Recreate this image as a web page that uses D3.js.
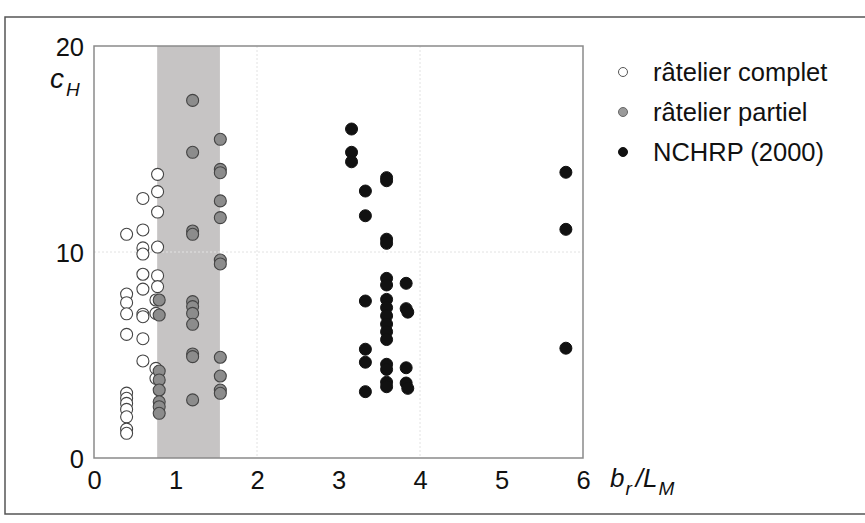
<!DOCTYPE html>
<html>
<head>
<meta charset="utf-8">
<script src="https://cdn.jsdelivr.net/npm/d3@7"></script>
<style>
  html, body { margin: 0; padding: 0; background: #fff; }
  svg { display: block; }
  text { font-family: "Liberation Sans", Arial, sans-serif; fill: #111; }
</style>
</head>
<body>
<svg id="chart" width="865" height="523"></svg>
<script>
// Racks: full rack (open), partial rack (grey), NCHRP (2000) data (black)
const completPoints = [
  [0.40, 10.86], [0.40, 7.96], [0.40, 7.54], [0.40, 7.0], [0.40, 6.0],
  [0.40, 3.15], [0.40, 2.9], [0.40, 2.65], [0.40, 2.36], [0.40, 2.0],
  [0.40, 1.4], [0.40, 1.2],
  [0.60, 12.6], [0.60, 11.07], [0.60, 10.2], [0.60, 9.9], [0.60, 8.92],
  [0.60, 8.2], [0.60, 6.98], [0.60, 6.86], [0.60, 5.79], [0.60, 4.71],
  [0.78, 13.77], [0.78, 12.93], [0.78, 11.94], [0.78, 10.24], [0.78, 8.85],
  [0.78, 8.32], [0.76, 7.67], [0.76, 7.02], [0.76, 4.35], [0.76, 3.87]
];
const partielPoints = [
  [0.80, 7.67], [0.80, 6.94], [0.80, 4.22], [0.80, 3.79], [0.80, 3.3],
  [0.80, 2.73], [0.80, 2.49], [0.80, 2.17],
  [1.21, 17.36], [1.21, 14.84], [1.21, 11.02], [1.21, 10.86], [1.21, 7.59],
  [1.21, 7.35], [1.21, 7.02], [1.21, 6.49], [1.21, 5.05], [1.21, 4.92], [1.21, 2.82],
  [1.55, 15.47], [1.55, 14.01], [1.55, 13.85], [1.55, 12.48], [1.55, 11.67],
  [1.55, 9.61], [1.55, 9.42], [1.55, 4.89], [1.55, 3.98], [1.55, 3.3], [1.55, 3.14]
];
const nchrpPoints = [
  [3.16, 15.97], [3.16, 14.84], [3.16, 14.38],
  [3.33, 12.96], [3.33, 11.76], [3.33, 7.62], [3.33, 5.28], [3.33, 4.65], [3.33, 3.22],
  [3.59, 13.61], [3.59, 13.46], [3.59, 10.62], [3.59, 10.42], [3.59, 8.72], [3.59, 8.4],
  [3.59, 7.7], [3.59, 7.3], [3.59, 6.9], [3.59, 6.5], [3.59, 6.13], [3.59, 5.75],
  [3.59, 4.55], [3.59, 4.3], [3.59, 3.68], [3.59, 3.46],
  [3.83, 8.48], [3.83, 7.25], [3.85, 7.08], [3.83, 4.38], [3.83, 3.64], [3.85, 3.38],
  [5.79, 13.87], [5.79, 11.1], [5.79, 5.33]
];
const shadedRange = [0.775, 1.545];
const xTicks = [0, 1, 2, 3, 4, 5, 6];
const yTicks = [0, 10, 20];
const xGrid = [2, 4];
const yGrid = [10];
const legendLabels = ["râtelier complet", "râtelier partiel", "NCHRP (2000)"];

const svg = d3.select("#chart");

// outer frame
svg.append("rect")
  .attr("x", 5).attr("y", 17).attr("width", 880).attr("height", 497)
  .attr("fill", "none").attr("stroke", "#555").attr("stroke-width", 1.5);

const plot = { left: 94, right: 583, top: 46, bottom: 458 };
const x = d3.scaleLinear().domain([0, 6]).range([plot.left, plot.right]);
const y = d3.scaleLinear().domain([0, 20]).range([plot.bottom, plot.top]);

// shaded band
svg.append("rect")
  .attr("x", x(shadedRange[0])).attr("y", plot.top)
  .attr("width", x(shadedRange[1]) - x(shadedRange[0]))
  .attr("height", plot.bottom - plot.top)
  .attr("fill", "#c6c4c4");

// faint grid
const grid = svg.append("g").attr("stroke", "#e2e2e2").attr("stroke-width", 1)
  .attr("stroke-dasharray", "2,2");
grid.selectAll("line.gx").data(xGrid).join("line")
  .attr("x1", d => x(d)).attr("x2", d => x(d))
  .attr("y1", plot.top).attr("y2", plot.bottom);
grid.selectAll("line.gy").data(yGrid).join("line")
  .attr("x1", plot.left).attr("x2", plot.right)
  .attr("y1", d => y(d)).attr("y2", d => y(d));

// plot box
svg.append("rect")
  .attr("x", plot.left).attr("y", plot.top)
  .attr("width", plot.right - plot.left).attr("height", plot.bottom - plot.top)
  .attr("fill", "none").attr("stroke", "#8a8a8a").attr("stroke-width", 1.5);

// axes (labels only)
const xAxis = d3.axisBottom(x).tickValues(xTicks).tickSize(0).tickPadding(0).tickFormat(d3.format("d"));
const gx = svg.append("g").attr("transform", `translate(0,${plot.bottom})`).call(xAxis);
gx.select(".domain").remove();
gx.selectAll("text").attr("font-size", 25.5).attr("dy", 0).attr("y", 31)
  .attr("font-family", "Liberation Sans, Arial, sans-serif").attr("fill", "#111");

const yAxis = d3.axisLeft(y).tickValues(yTicks).tickSize(0).tickPadding(0).tickFormat(d3.format("d"));
const gy = svg.append("g").attr("transform", `translate(${plot.left - 10},0)`).call(yAxis);
gy.select(".domain").remove();
gy.selectAll("text").attr("font-size", 25.5).attr("dy", "0.36em").attr("x", 0)
  .attr("font-family", "Liberation Sans, Arial, sans-serif").attr("fill", "#111");

// axis titles
const yt = svg.append("text").attr("x", 50).attr("y", 88).attr("font-size", 28).attr("font-style", "italic");
yt.append("tspan").text("c");
yt.append("tspan").attr("font-size", 19).attr("dy", 8).attr("dx", 2).text("H");

const xt = svg.append("text").attr("x", 610).attr("y", 487).attr("font-size", 26).attr("font-style", "italic");
xt.append("tspan").text("b");
xt.append("tspan").attr("font-size", 19).attr("dy", 8).attr("dx", 1).text("r");
xt.append("tspan").attr("dy", -8).attr("dx", 4).text("/L");
xt.append("tspan").attr("font-size", 19).attr("dy", 8).attr("dx", 1).text("M");

// markers
const R = 6;
svg.append("g").selectAll("circle").data(completPoints).join("circle")
  .attr("cx", d => x(d[0])).attr("cy", d => y(d[1])).attr("r", R)
  .attr("fill", "#fff").attr("stroke", "#444").attr("stroke-width", 1.1);
svg.append("g").selectAll("circle").data(partielPoints).join("circle")
  .attr("cx", d => x(d[0])).attr("cy", d => y(d[1])).attr("r", R)
  .attr("fill", "#8c8c8c").attr("stroke", "#444").attr("stroke-width", 1.1);
svg.append("g").selectAll("circle").data(nchrpPoints).join("circle")
  .attr("cx", d => x(d[0])).attr("cy", d => y(d[1])).attr("r", R)
  .attr("fill", "#111").attr("stroke", "#111").attr("stroke-width", 1);

// legend
const legendStyles = [
  { fill: "#fff", stroke: "#555" },
  { fill: "#9a9a9a", stroke: "#666" },
  { fill: "#111", stroke: "#111" }
];
const lg = svg.append("g");
const li = lg.selectAll("g").data(legendLabels).join("g")
  .attr("transform", (d, i) => `translate(623,${72 + i * 40})`);
li.append("circle").attr("r", 4.5)
  .attr("fill", (d, i) => legendStyles[i].fill)
  .attr("stroke", (d, i) => legendStyles[i].stroke).attr("stroke-width", 1);
li.append("text").attr("x", 30).attr("dy", "0.36em").attr("font-size", 25.5).text(d => d);
</script>
</body>
</html>
